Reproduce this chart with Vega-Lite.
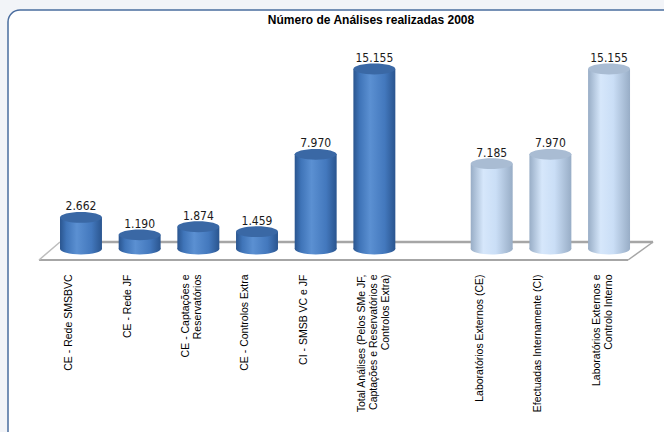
{
  "$schema": "https://vega.github.io/schema/vega-lite/v6.json",
  "autosize": "none",
  "width": 672,
  "height": 440,
  "padding": {"left": 8, "top": 10, "right": -16, "bottom": -18},
  "background": "#f2f4f8",
  "config": {
    "view": {"fill": "white", "stroke": "#4a6d9f", "strokeWidth": 1.5, "cornerRadius": 12},
    "locale": {"number": {"decimal": ",", "thousands": ".", "grouping": [3], "currency": ["", " €"]}}
  },
  "title": {
    "text": "Número de Análises realizadas 2008",
    "offset": -17,
    "dx": 27,
    "font": "Liberation Sans",
    "fontSize": 12,
    "fontWeight": "bold",
    "color": "#000000"
  },
  "data": {
    "values": [
      {"cat": "CE - Rede SMSBVC", "valor": 2662, "grupo": "A"},
      {"cat": "CE - Rede JF", "valor": 1190, "grupo": "A"},
      {"cat": "CE - Captações e|Reservatórios", "valor": 1874, "grupo": "A"},
      {"cat": "CE - Controlos Extra", "valor": 1459, "grupo": "A"},
      {"cat": "CI - SMSB VC e JF", "valor": 7970, "grupo": "A"},
      {"cat": "Total Análises (Pelos SMe JF,|Captações e Reservatórios e|Controlos Extra)", "valor": 15155, "grupo": "A"},
      {"cat": "Laboratórios Externos (CE)", "valor": 7185, "grupo": "B"},
      {"cat": "Efectuadas Internamente (CI)", "valor": 7970, "grupo": "B"},
      {"cat": "Laboratórios Externos e|Controlo Interno", "valor": 15155, "grupo": "B"}
    ]
  },
  "encoding": {
    "x": {
      "field": "cat",
      "type": "nominal",
      "sort": null,
      "title": null,
      "scale": {
        "domain": [
          "CE - Rede SMSBVC",
          "CE - Rede JF",
          "CE - Captações e|Reservatórios",
          "CE - Controlos Extra",
          "CI - SMSB VC e JF",
          "Total Análises (Pelos SMe JF,|Captações e Reservatórios e|Controlos Extra)",
          " ",
          "Laboratórios Externos (CE)",
          "Efectuadas Internamente (CI)",
          "Laboratórios Externos e|Controlo Interno"
        ],
        "paddingInner": 0.285,
        "paddingOuter": 0.869,
        "align": 0.51
      },
      "axis": {
        "orient": "bottom",
        "offset": -201,
        "domain": false,
        "ticks": false,
        "grid": false,
        "labelAngle": 270,
        "labelAlign": "right",
        "labelBaseline": "middle",
        "labelPadding": 25,
        "labelOffset": -12,
        "labelFont": "Liberation Sans",
        "labelFontSize": 10.5,
        "labelColor": "#000000",
        "labelLineHeight": 12,
        "labelLimit": 0,
        "labelExpr": "split(datum.label, '|')"
      }
    }
  },
  "layer": [
    {
      "data": {"values": [{}]},
      "mark": {"type": "rule", "color": "#a6a6a6", "strokeWidth": 2.5, "xOffset": -21, "x2Offset": 44},
      "encoding": {
        "x": {"datum": "CE - Rede SMSBVC", "type": "nominal"},
        "x2": {"datum": "Laboratórios Externos e|Controlo Interno"},
        "y": {"datum": 589, "type": "quantitative", "scale": {"domain": [-16922, 20122], "nice": false, "zero": false}, "axis": null}
      }
    },
    {
      "data": {"values": [{}]},
      "mark": {"type": "rule", "color": "#a6a6a6", "strokeWidth": 2, "xOffset": -42, "x2Offset": 19},
      "encoding": {
        "x": {"datum": "CE - Rede SMSBVC", "type": "nominal"},
        "x2": {"datum": "Laboratórios Externos e|Controlo Interno"},
        "y": {"datum": -926, "type": "quantitative", "axis": null}
      }
    },
    {
      "data": {"values": [{}]},
      "mark": {"type": "rule", "color": "#bdbdbd", "strokeWidth": 1.5, "xOffset": -42, "x2Offset": -21},
      "encoding": {
        "x": {"datum": "CE - Rede SMSBVC", "type": "nominal"},
        "x2": {"datum": "CE - Rede SMSBVC"},
        "y": {"datum": -926, "type": "quantitative", "axis": null},
        "y2": {"datum": 589}
      }
    },
    {
      "data": {"values": [{}]},
      "mark": {"type": "rule", "color": "#a6a6a6", "strokeWidth": 1.5, "xOffset": 19, "x2Offset": 44},
      "encoding": {
        "x": {"datum": "Laboratórios Externos e|Controlo Interno", "type": "nominal"},
        "x2": {"datum": "Laboratórios Externos e|Controlo Interno"},
        "y": {"datum": -926, "type": "quantitative", "axis": null},
        "y2": {"datum": 589}
      }
    },
    {
      "mark": {"type": "point", "shape": "M-1,0A1,0.26,0,1,1,1,0A1,0.26,0,1,1,-1,0Z", "size": 1756, "filled": true, "opacity": 1, "strokeWidth": 0},
      "encoding": {
        "y": {"datum": 0, "type": "quantitative", "axis": null},
        "fill": {
          "condition": {
            "test": "datum.grupo === 'A'",
            "value": {"gradient": "linear", "x1": 0, "x2": 1, "y1": 0, "y2": 0, "stops": [
              {"offset": 0, "color": "#2a558f"}, {"offset": 0.15, "color": "#3f74b8"}, {"offset": 0.4, "color": "#5b90d2"}, {"offset": 0.75, "color": "#4378bd"}, {"offset": 1, "color": "#2a558f"}]}
          },
          "value": {"gradient": "linear", "x1": 0, "x2": 1, "y1": 0, "y2": 0, "stops": [
            {"offset": 0, "color": "#98adc6"}, {"offset": 0.3, "color": "#d6e7fb"}, {"offset": 0.6, "color": "#cadef6"}, {"offset": 1, "color": "#98adc6"}]}
        }
      }
    },
    {
      "mark": {"type": "bar"},
      "encoding": {
        "y": {"field": "valor", "type": "quantitative", "axis": null},
        "y2": {"datum": 0},
        "fill": {
          "condition": {
            "test": "datum.grupo === 'A'",
            "value": {"gradient": "linear", "x1": 0, "x2": 1, "y1": 0, "y2": 0, "stops": [
              {"offset": 0, "color": "#2a558f"}, {"offset": 0.15, "color": "#3f74b8"}, {"offset": 0.4, "color": "#5b90d2"}, {"offset": 0.75, "color": "#4378bd"}, {"offset": 1, "color": "#2a558f"}]}
          },
          "value": {"gradient": "linear", "x1": 0, "x2": 1, "y1": 0, "y2": 0, "stops": [
            {"offset": 0, "color": "#98adc6"}, {"offset": 0.3, "color": "#d6e7fb"}, {"offset": 0.6, "color": "#cadef6"}, {"offset": 1, "color": "#98adc6"}]}
        }
      }
    },
    {
      "mark": {"type": "point", "shape": "M-1,0A1,0.26,0,1,1,1,0A1,0.26,0,1,1,-1,0Z", "size": 1756, "filled": true, "opacity": 1, "strokeWidth": 0},
      "encoding": {
        "y": {"field": "valor", "type": "quantitative", "axis": null},
        "fill": {
          "condition": {"test": "datum.grupo === 'A'", "value": "#3a68a5"},
          "value": "#a9bcd3"
        }
      }
    },
    {
      "mark": {"type": "text", "baseline": "alphabetic", "dy": -7, "font": "Liberation Sans Narrow, DejaVu Sans Condensed, sans-serif", "fontSize": 12, "color": "#1a1a1a"},
      "encoding": {
        "y": {"field": "valor", "type": "quantitative", "axis": null},
        "text": {"field": "valor", "type": "quantitative", "format": ",d"}
      }
    }
  ]
}
